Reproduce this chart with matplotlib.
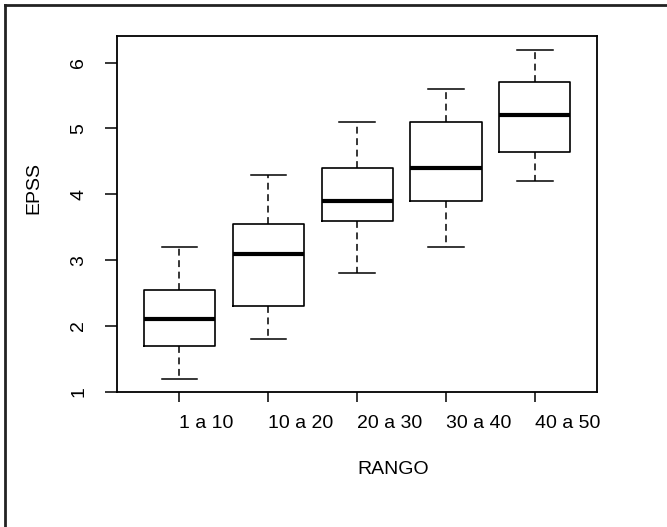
import matplotlib
matplotlib.use("Agg")
import matplotlib.pyplot as plt
from matplotlib.lines import Line2D

categories = ["1 a 10", "10 a 20", "20 a 30", "30 a 40", "40 a 50"]
whislo = [1.2, 1.8, 2.8, 3.2, 4.2]
q1 = [1.7, 2.3, 3.6, 3.9, 4.65]
med = [2.1, 3.1, 3.9, 4.4, 5.2]
q3 = [2.55, 3.55, 4.4, 5.1, 5.7]
whishi = [3.2, 4.3, 5.1, 5.6, 6.2]
yticks = [1, 2, 3, 4, 5, 6]

plt.rcParams['font.family'] = ['Liberation Sans', 'DejaVu Sans']
FS = 14

fig = plt.figure(figsize=(6.67, 5.27), dpi=100)
ax = fig.add_axes([117.3/667, 1-391.7/527, (597-117.3)/667, (391.7-35.7)/527])

stats = []
for i, c in enumerate(categories):
    stats.append(dict(label=c, whislo=whislo[i], q1=q1[i], med=med[i],
                      q3=q3[i], whishi=whishi[i], fliers=[]))

ax.bxp(stats, positions=range(1, len(categories)+1), widths=0.8,
       capwidths=0.4, showfliers=False,
       boxprops=dict(color='black', linewidth=1.2),
       medianprops=dict(color='black', linewidth=3),
       whiskerprops=dict(color='black', linewidth=1.1, linestyle=(0, (4.5, 3))),
       capprops=dict(color='black', linewidth=1.1))

ax.set_xlim(0.3, 5.7)
ax.set_ylim(1.0, 6.41)
ax.set_xticks(range(1, len(categories)+1))
ax.set_xticklabels(categories, ha='left', fontsize=FS)
ax.set_yticks(yticks)
ax.set_yticklabels([str(t) for t in yticks], rotation=90, va='center', fontsize=FS)
ax.tick_params(axis='x', length=7.5, width=1.1, pad=9)
ax.tick_params(axis='y', length=8.5, width=1.1, pad=13)
for s in ax.spines.values():
    s.set_linewidth(1.3)

fig.text(393.5/667, 1-469/527, "RANGO", ha='center', va='center', fontsize=FS)
fig.text(33.5/667, 1-188.5/527, "EPSS", ha='center', va='center', rotation=90, fontsize=FS)

# outer frame (top and left edges)
fig.add_artist(Line2D([5/667, 5/667], [0, 1-5/527], transform=fig.transFigure, color='#222222', linewidth=2))
fig.add_artist(Line2D([5/667, 1], [1-5/527, 1-5/527], transform=fig.transFigure, color='#222222', linewidth=2))

fig.savefig("out.png", dpi=100)
